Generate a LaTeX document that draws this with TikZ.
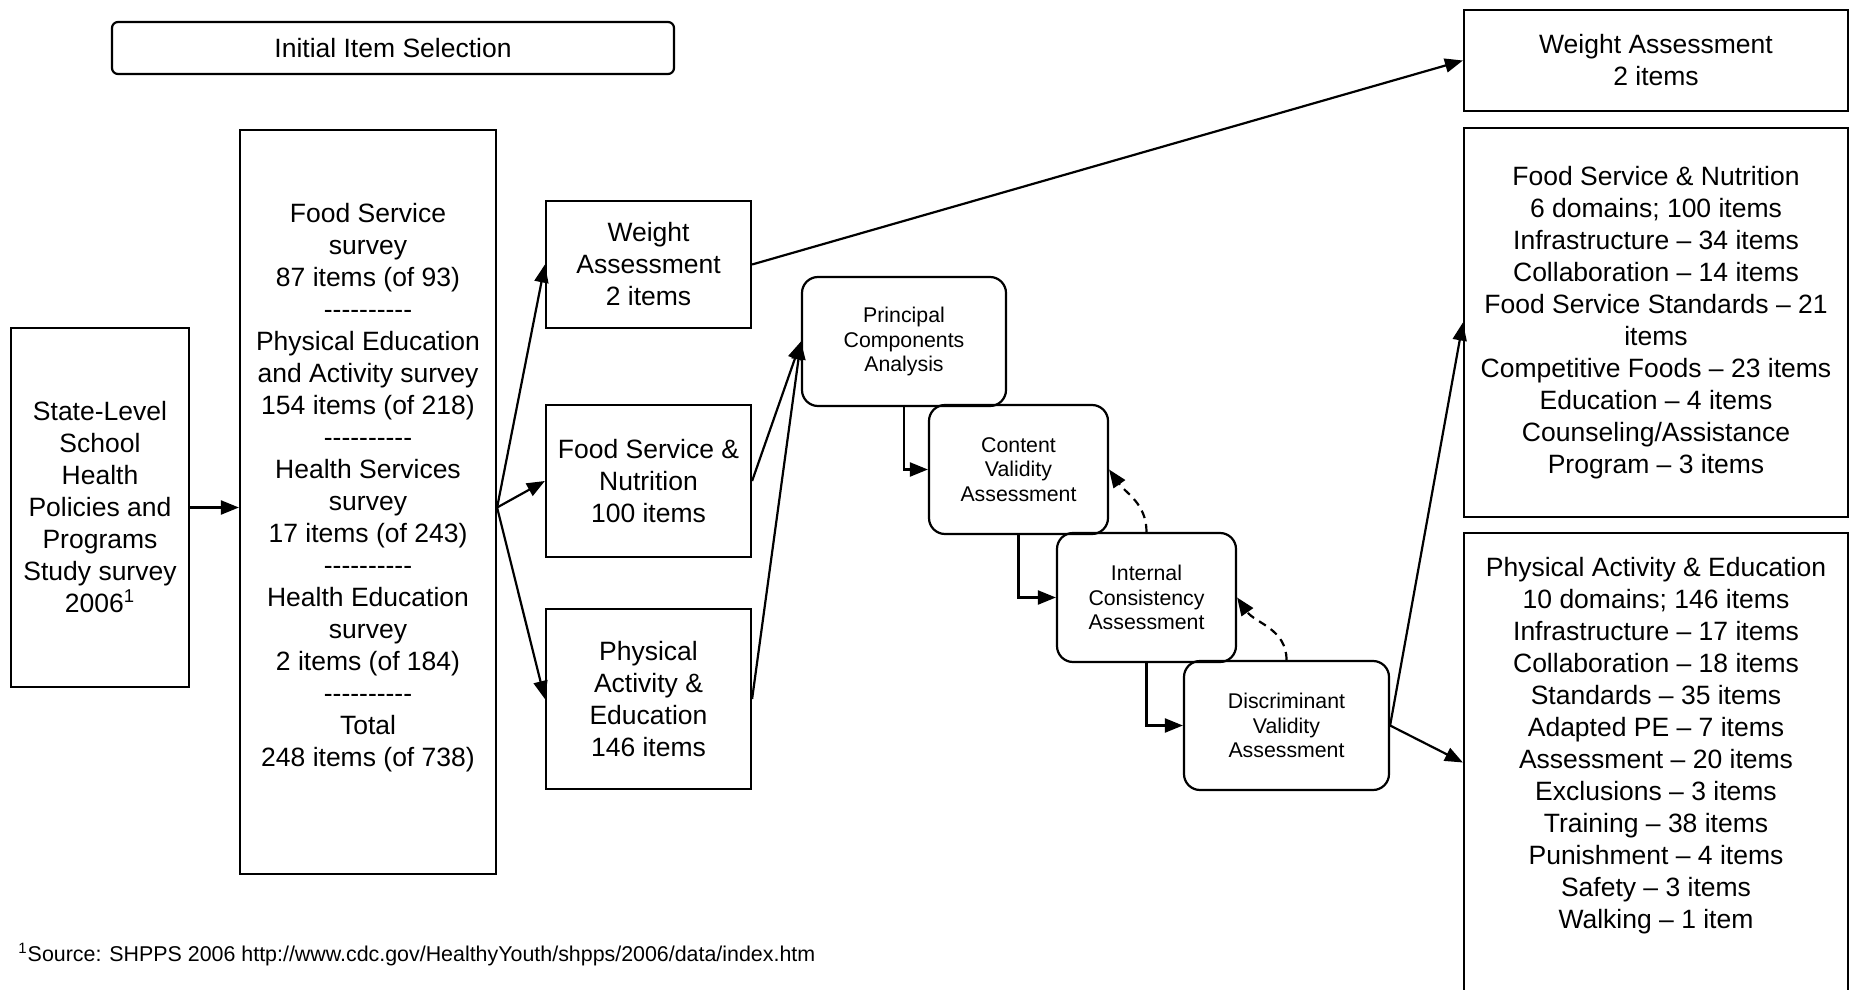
\documentclass[tikz,border=0pt]{standalone}
\usepackage{fontspec}
\setmainfont{Liberation Sans}
\usetikzlibrary{arrows.meta}

\begin{document}
\begin{tikzpicture}[x=0.5pt, y=-0.5pt,
  box/.style={draw, line width=1.1pt, align=center, inner sep=0pt},
  phase/.style={box, rounded corners=8pt, minimum height=64.5pt,
    font=\fontsize{10.65}{12.25}\selectfont},
  arr/.style={line width=1.1pt, -{Triangle[length=9pt, width=7pt]}}]

  \fontsize{13.25}{16}\selectfont
  \newcommand\dashrow{-{}-{}-{}-{}-{}-{}-{}-{}-{}-}

  \path[clip, use as bounding box] (0,0) rectangle (1854,990);

  \node[box, rounded corners=3pt, minimum width=281pt, minimum height=26pt] (sel) at (393,48) {Initial Item Selection};

  \node[box, minimum width=89pt, minimum height=179.5pt] (shpps) at (100,507.5)
    {State-Level\\School\\Health\\Policies and\\Programs\\Study survey\\2006\textsuperscript{1}};

  \node[box, minimum width=128pt, minimum height=372pt] (surveys) at (368,502) {};
  \node[align=center] (surveys-text) at (368,488)
    {Food Service\\survey\\87 items (of 93)\\\dashrow\\Physical Education\\and Activity survey\\154 items (of 218)\\\dashrow\\
     Health Services\\survey\\17 items (of 243)\\\dashrow\\Health Education\\survey\\2 items (of 184)\\\dashrow\\Total\\248 items (of 738)};

  \node[box, minimum width=102.5pt, minimum height=63.5pt] (wa) at (648.5,264.5) {Weight\\Assessment\\2 items};
  \node[box, minimum width=102.5pt, minimum height=76pt] (fsn) at (648.5,481) {Food Service \&\\Nutrition\\100 items};
  \node[box, minimum width=102.5pt, minimum height=90pt] (pae) at (648.5,699) {Physical\\Activity \&\\Education\\146 items};

  \node[phase, minimum width=102pt] (pca) at (904,341.5) {Principal\\Components\\Analysis};
  \node[phase, minimum width=89.5pt] (cva) at (1018.5,469.5) {Content\\Validity\\Assessment};
  \node[phase, minimum width=89.5pt] (ica) at (1146.5,597.5) {Internal\\Consistency\\Assessment};
  \node[phase, minimum width=102.5pt] (dva) at (1286.5,725.5) {Discriminant\\Validity\\Assessment};

  \node[box, minimum width=192pt, minimum height=50.5pt] (wa-final) at (1656,60.5) {Weight Assessment\\2 items};
  \node[box, minimum width=192pt, minimum height=194.5pt] (fsn-final) at (1656,322.5)
    {Food Service \& Nutrition\\6 domains; 100 items\\Infrastructure – 34 items\\Collaboration – 14 items\\Food Service Standards – 21\\items\\
     Competitive Foods – 23 items\\Education – 4 items\\Counseling/Assistance\\Program – 3 items};
  \node[box, minimum width=192pt, minimum height=229.5pt] (pae-final) at (1656,762.5) {};
  \node[align=center] (pae-final-text) at (1656,746)
    {Physical Activity \& Education\\10 domains; 146 items\\Infrastructure – 17 items\\Collaboration – 18 items\\Standards – 35 items\\Adapted PE – 7 items\\
     Assessment – 20 items\\Exclusions – 3 items\\Training – 38 items\\Punishment – 4 items\\Safety – 3 items\\Walking – 1 item};

  \node[anchor=west, inner sep=0pt, font=\fontsize{10.7}{12}\selectfont] (source) at (18,955)
    {\textsuperscript{1}Source: SHPPS 2006 http://www.cdc.gov/HealthyYouth/shpps/2006/data/index.htm};

  \coordinate (fork) at (shpps.east -| surveys.east);

  \draw[arr] (shpps.east) -- (shpps.east -| surveys.west); %% state survey -> surveys
  \draw[arr] (fork) -- (wa.west); %% surveys -> weight
  \draw[arr] (fork) -- (fsn.west); %% surveys -> food service
  \draw[arr] (fork) -- (pae.west); %% surveys -> physical activity
  \draw[arr] (wa.east) -- (wa-final.west); %% weight -> final weight
  \draw[arr] (fsn.east) -- (pca.west); %% food service -> PCA
  \draw[arr] (pae.east) -- (pca.west); %% physical activity -> PCA

  \draw[arr] (pca.south) |- (cva.west); %% PCA -> content
  \draw[arr] (cva.south) |- (ica.west); %% content -> internal
  \draw[arr] (ica.south) |- (dva.west); %% internal -> discriminant
  \draw[arr, dash pattern=on 4pt off 3pt] (ica.north) to[out=90, in=-55] (cva.east); %% back to content
  \draw[arr, dash pattern=on 4pt off 3pt] (dva.north) to[out=90, in=-55] (ica.east); %% back to internal

  \draw[arr] (dva.east) -- (fsn-final.west); %% discriminant -> final food service
  \draw[arr] (dva.east) -- (pae-final.west); %% discriminant -> final physical activity
\end{tikzpicture}
\end{document}
